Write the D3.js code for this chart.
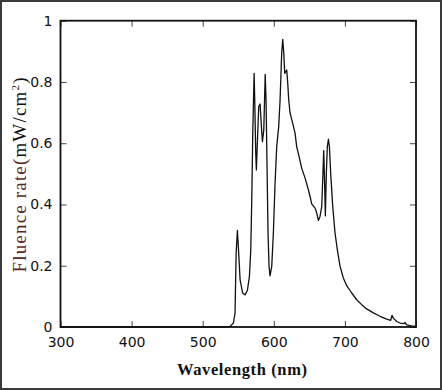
<!DOCTYPE html>
<html><head><meta charset="utf-8">
<script src="https://cdn.jsdelivr.net/npm/d3@7"></script>
<style>html,body{margin:0;padding:0;background:#fff;}svg{display:block;}</style>
</head><body>
<script>
const wavelength = [300,400,500,530,538.5,543.2,545.5,547,548.8,550.2,552.6,556.3,559.6,562.9,565.7,567.6,569,570.4,572.3,573.2,574.6,575.5,577,578.8,580.7,582.6,584,585.9,587.9,589.1,590.5,591.9,593.3,594.7,597.1,599.4,601.8,604.1,606.9,608.8,611.1,612.6,614,615.4,616.8,618.2,619.6,621,622.9,626.6,629.9,632.2,635.5,639.3,644,648.6,651,653.3,658,660.4,662.7,665,667.4,668.8,670.2,671.6,672.5,673.9,675.3,676.8,678.2,680,682.9,686.1,689.4,693.2,697.8,702.5,709.6,716.6,723.6,730.6,740,749.4,758.8,764.4,766.3,768.2,772.8,777.5,783.1,784.5,786.9,793.9,800];
const fluence = [0,0,0,0,0.002,0.013,0.046,0.24,0.315,0.26,0.154,0.11,0.105,0.12,0.165,0.25,0.415,0.63,0.828,0.74,0.567,0.513,0.61,0.72,0.728,0.654,0.605,0.643,0.825,0.74,0.524,0.307,0.198,0.167,0.198,0.307,0.47,0.589,0.654,0.74,0.894,0.939,0.894,0.828,0.834,0.839,0.796,0.741,0.698,0.665,0.633,0.589,0.557,0.518,0.486,0.448,0.426,0.402,0.388,0.372,0.348,0.361,0.393,0.48,0.576,0.459,0.363,0.502,0.589,0.613,0.589,0.502,0.393,0.307,0.252,0.198,0.16,0.135,0.111,0.089,0.073,0.059,0.046,0.035,0.026,0.022,0.038,0.029,0.018,0.013,0.011,0.015,0.007,0.004,0.002];
const xTicks = [300,400,500,600,700,800];
const yTicks = [0,0.2,0.4,0.6,0.8,1];
const yTickLabels = ["0","0.2","0.4","0.6","0.8","1"];

const W = 442, H = 390;
const svg = d3.select("body").append("svg").attr("width", W).attr("height", H);
svg.append("rect").attr("x",1).attr("y",1).attr("width",W-2).attr("height",H-2)
  .attr("fill","#fff").attr("stroke","#3a3a3a").attr("stroke-width",2);

const L = 60.5, R = 416, T = 20.7, B = 327;
const x = d3.scaleLinear().domain([300,800]).range([L,R]);
const y = d3.scaleLinear().domain([0,1]).range([B,T]);

const tickFmt = (d,i) => yTickLabels[i];
const gB = svg.append("g").attr("transform",`translate(0,${B})`)
  .call(d3.axisBottom(x).tickValues(xTicks).tickSizeInner(-6).tickSizeOuter(0).tickPadding(10).tickFormat(d3.format("d")));
const gL = svg.append("g").attr("transform",`translate(${L},0)`)
  .call(d3.axisLeft(y).tickValues(yTicks).tickSizeInner(-6).tickSizeOuter(0).tickPadding(8).tickFormat(tickFmt));
const gT = svg.append("g").attr("transform",`translate(0,${T})`)
  .call(d3.axisTop(x).tickValues(xTicks).tickSizeInner(-6).tickSizeOuter(0).tickFormat(""));
const gR = svg.append("g").attr("transform",`translate(${R},0)`)
  .call(d3.axisRight(y).tickValues(yTicks).tickSizeInner(-6).tickSizeOuter(0).tickFormat(""));
[gB,gL,gT,gR].forEach(g => {
  g.select(".domain").remove();
  g.selectAll(".tick line").attr("stroke","#444").attr("stroke-width",1);
  g.selectAll(".tick text").attr("font-family","DejaVu Sans, sans-serif").attr("font-size",14).attr("fill","#111");
});

svg.append("rect").attr("x",L).attr("y",T).attr("width",R-L).attr("height",B-T)
  .attr("fill","none").attr("stroke","#111").attr("stroke-width",1.8);

const pts = wavelength.map((w,i)=>[w,fluence[i]]);
svg.append("path").datum(pts)
  .attr("fill","none").attr("stroke","#111").attr("stroke-width",1.3).attr("stroke-linejoin","round")
  .attr("d", d3.line().x(d=>x(d[0])).y(d=>y(d[1])));

svg.append("text").attr("x",242).attr("y",375).attr("text-anchor","middle")
  .attr("font-family","Liberation Serif, serif").attr("font-weight","bold").attr("font-size",16.5)
  .attr("textLength",130).attr("lengthAdjust","spacing").attr("fill","#111")
  .text("Wavelength (nm)");

const yl = svg.append("text").attr("transform","translate(26,175) rotate(-90)").attr("text-anchor","middle")
  .attr("font-family","Liberation Serif, serif").attr("font-size",19)
  .attr("textLength",195).attr("lengthAdjust","spacing");
yl.append("tspan").attr("fill","#5a2a1f").text("Fluence rate(");
yl.append("tspan").attr("fill","#111").text("mW/cm");
yl.append("tspan").attr("fill","#111").attr("font-size",11).attr("dy",-7).text("2");
yl.append("tspan").attr("fill","#111").attr("dy",7).text(")");
</script>
</body></html>
